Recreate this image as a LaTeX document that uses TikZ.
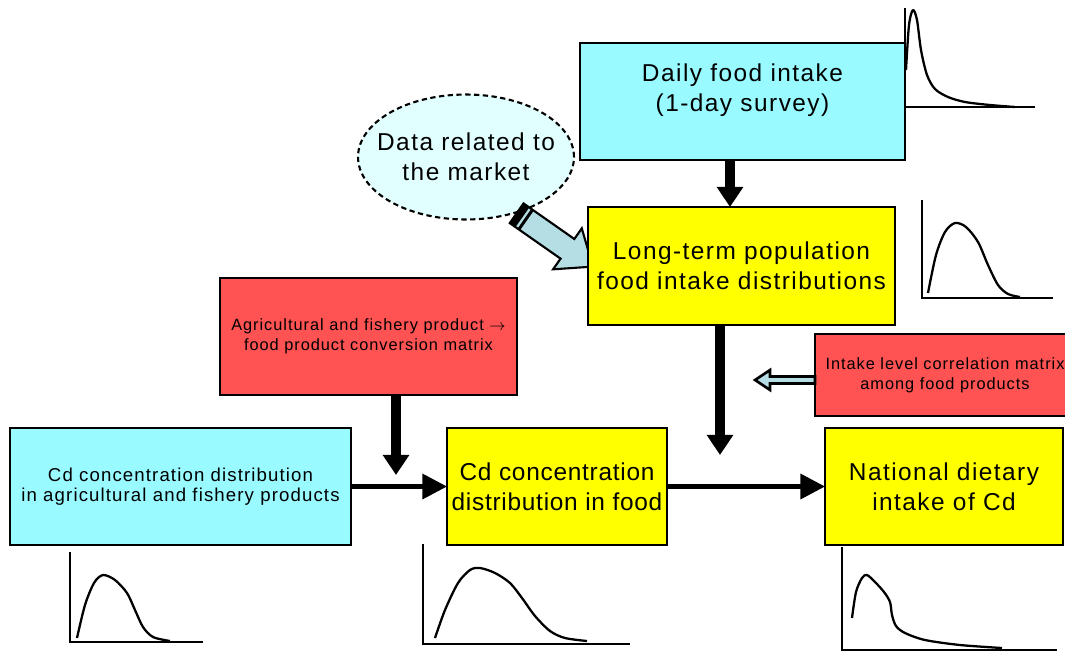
\documentclass[tikz,border=0pt]{standalone}
\usepackage{fontspec}
\setmainfont{Liberation Sans}[LetterSpace=6]
\usetikzlibrary{arrows.meta}
\usetikzlibrary{shapes.geometric}

\definecolor{boxcyan}{RGB}{153,250,255}
\definecolor{boxyellow}{RGB}{255,255,0}
\definecolor{boxred}{RGB}{255,82,82}
\definecolor{datacyan}{RGB}{225,255,255}
\definecolor{arrowblue}{RGB}{180,222,228}

\tikzset{
  box/.style={draw, line width=1.2pt, inner sep=0pt, outer sep=0pt, align=center, minimum height=2.34cm},
  bigtext/.style={font=\fontsize{13.9}{17}\selectfont},
  midtext/.style={font=\fontsize{10.6}{11.4}\selectfont},
  smalltext/.style={font=\fontsize{9.3}{11.3}\selectfont},
  fatarrow/.style={line width=5.5pt, -{Triangle[length=11.5pt,width=14.5pt]}},
  thinarrow/.style={line width=2.6pt, -{Triangle[length=14pt,width=14pt]}},
  hollowarrow/.style={draw=black, fill=arrowblue, line width=1.5pt, line join=miter},
  blockarrow/.style={draw=black, fill=arrowblue, line width=1.2pt},
  axisline/.style={line width=1.5pt},
  curveline/.style={line width=1.3pt, line join=round}
}

\begin{document}
\begin{tikzpicture}[x=0.02cm, y=0.02cm]
  \clip (0,0) rectangle (1065,-653);

  % boxes
  \node[box, fill=boxcyan, bigtext, minimum width=6.5cm] (daily) at (742.5,-101.5)
    {Daily food intake\\(1-day survey)\\[-6pt]\strut};
  \node[ellipse, draw, line width=1.2pt, dash pattern=on 3pt off 2pt, fill=datacyan,
    minimum width=4.32cm, minimum height=2.5cm, inner sep=0pt] (data) at (466,-157) {};
  \node[bigtext, align=center] (datatext) at (data) {Data related to\\the market};

  % market data arrow
  \begin{scope}[shift={(data.-48)}, rotate=-35]
    \filldraw[blockarrow] (0,12) -- (62,12) -- (62,25) -- (93,0) -- (62,-25) -- (62,-12) -- (0,-12) -- cycle;
    \fill (0,-12) rectangle (7,12);
    \fill (9.5,-12) rectangle (12.5,12);
  \end{scope}

  \node[box, fill=boxyellow, bigtext, minimum width=6.14cm, minimum height=2.36cm] (longterm)
    at (741.5,-266) {Long-term population\\food intake distributions};
  \node[box, fill=boxred, smalltext, minimum width=5.94cm] (agri) at (368.5,-336.5)
    {Agricultural and fishery product $\rightarrow$\\food product conversion matrix};
  \node[box, fill=boxred, smalltext, minimum width=5.2cm, minimum height=1.64cm] (intake)
    at (945,-375) {Intake level correlation matrix\\among food products};
  \node[box, fill=boxcyan, midtext, minimum width=6.82cm] (cdagri) at (180.5,-486.5)
    {Cd concentration distribution\\in agricultural and fishery products};
  \node[box, fill=boxyellow, bigtext, minimum width=4.4cm] (cdfood) at (557,-486.5)
    {\addfontfeature{LetterSpace=3}Cd concentration\\\addfontfeature{LetterSpace=3}distribution in food};
  \node[box, fill=boxyellow, bigtext, minimum width=4.76cm] (national) at (944,-486.5)
    {National dietary\\intake of Cd};

  % connectors
  \coordinate (agrijoin) at (396,-475);
  \coordinate (longjoin) at (720,-455);
  \draw[fatarrow] ([xshift=-0.25cm]daily.south) -- ([xshift=-0.25cm]daily.south |- longterm.north);
  \draw[fatarrow] (agri.south -| agrijoin) -- (agrijoin);
  \draw[fatarrow] (longterm.south -| longjoin) -- (longjoin);
  \draw[thinarrow] (cdagri) -- (cdfood);
  \draw[thinarrow] (cdfood) -- (national);
  \filldraw[hollowarrow] ([yshift=-0.1cm]intake.west) ++(0,3.5) -- ++(-45,0) -- ++(0,6.5)
    -- ++(-15,-10) -- ++(15,-10) -- ++(0,6.5) -- ++(45,0) -- cycle;

  % distributions
  \draw[axisline] (905,-8) -- (905,-107) -- (1035,-107);
  \draw[curveline] plot[smooth] coordinates {(906,-70) (909,-25) (913,-10) (917,-20) (921,-50)
    (927,-75) (935,-89) (948,-97) (965,-102) (990,-105) (1015,-107)};

  \draw[axisline] (922,-200) -- (922,-298) -- (1053,-298);
  \draw[curveline] plot[smooth] coordinates {(928,-293) (936,-255) (945,-232) (955,-223)
    (966,-227) (978,-242) (988,-265) (998,-285) (1008,-294) (1020,-297)};

  \draw[axisline] (70,-552) -- (70,-642) -- (203,-642);
  \draw[curveline] plot[smooth] coordinates {(77,-638) (85,-605) (94,-583) (103,-575)
    (115,-580) (127,-593) (135,-610) (143,-627) (153,-637) (170,-641)};

  \draw[axisline] (423,-544) -- (423,-644) -- (630,-644);
  \draw[curveline] plot[smooth] coordinates {(435,-638) (445,-610) (458,-583) (470,-570)
    (480,-568) (495,-573) (510,-583) (522,-598) (535,-616) (550,-631) (565,-638) (587,-641)};

  \draw[axisline] (842,-547) -- (842,-650) -- (1057,-650);
  \draw[curveline] plot[smooth] coordinates {(852,-618) (856,-592) (862,-578) (867,-575)
    (875,-582) (884,-592) (890,-602) (892,-615) (896,-626) (905,-633) (925,-640)
    (960,-645) (1002,-648)};
\end{tikzpicture}
\end{document}
